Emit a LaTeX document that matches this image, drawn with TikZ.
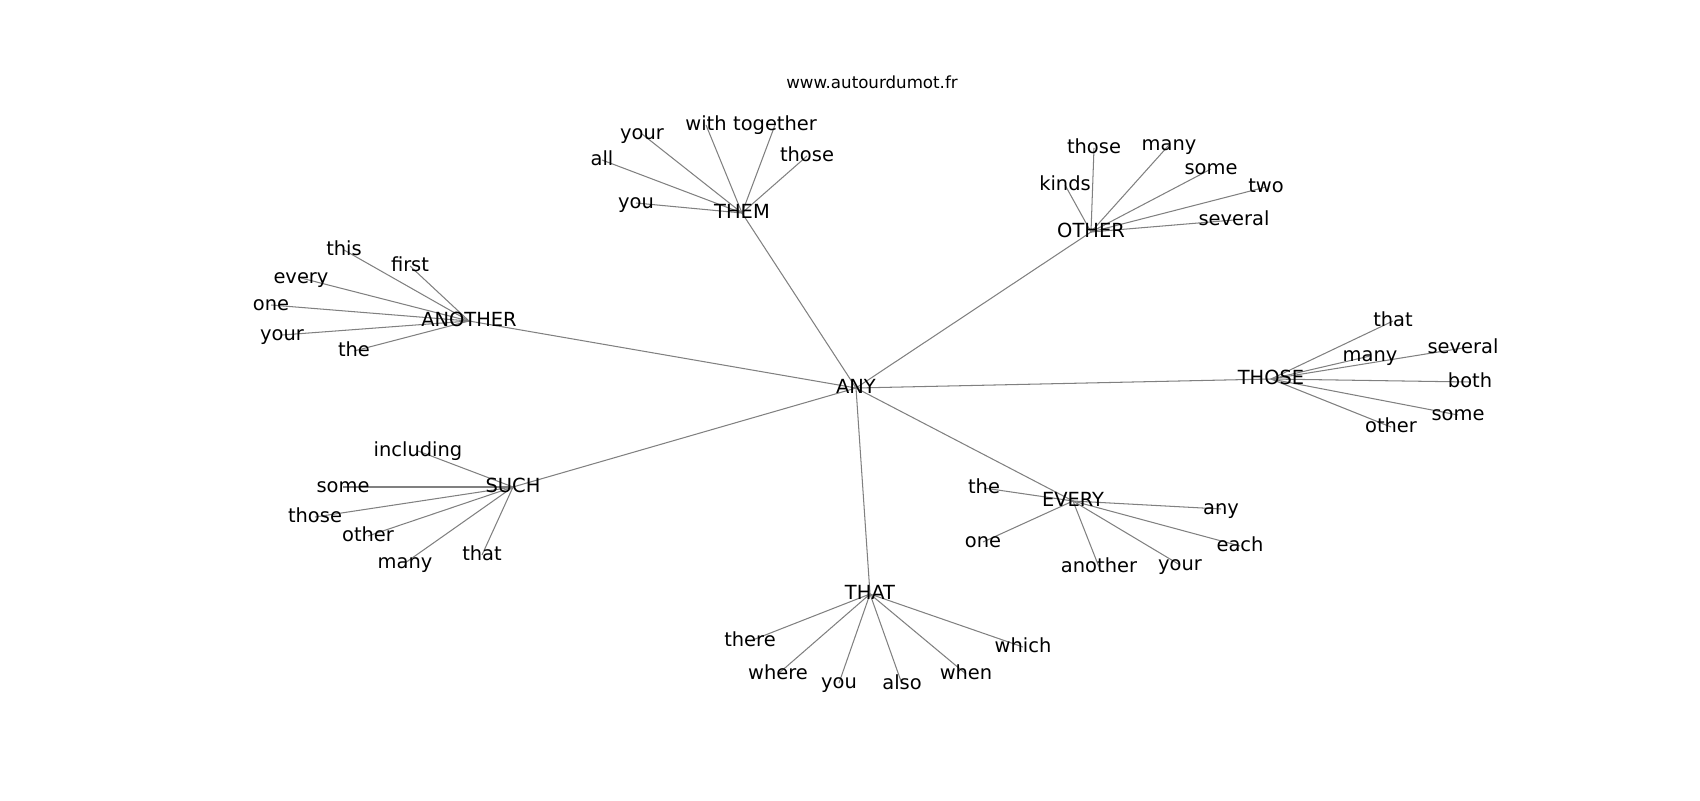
\documentclass[tikz,border=0pt]{standalone}
\usepackage{fontspec}
\setmainfont{DejaVu Sans}
\usepackage{tikz}
\usepackage{xcolor}
\usetikzlibrary{backgrounds}

\tikzset{
    word/.style={inner sep=0pt, text height=1.07em, text depth=0.208em, font=\fontsize{14}{16}\selectfont},
    site/.style={inner sep=0pt, text height=0.76em, text depth=0.208em, font=\fontsize{12}{14}\selectfont},
    link/.style={draw=black!50, line width=0.75pt}
}

\begin{document}
\begin{tikzpicture}[x=0.72pt,y=-0.72pt]
            \useasboundingbox (0,0) rectangle (1700,800);

            \node[site] (title) at (872,85) {www.autourdumot.fr};

            % the centre and its neighbours
            \foreach \hub/\word/\x/\y in {any/ANY/856/388, them/THEM/742/213, another/ANOTHER/469/321,
                other/OTHER/1091/232, those/THOSE/1271/379, such/SUCH/513/487,
                every/EVERY/1073/501, that/THAT/870/594}
            {
                \node[word] (\hub) at (\x,\y) {\word};
            }
            \begin{scope}[on background layer]
                \foreach \hub in {them,another,other,those,such,every,that}
                {
                    \draw[link] (any.center) -- (\hub.center);
                }
            \end{scope}

            % the leaves of each neighbour
            \foreach \hub/\i/\word/\x/\y in {
                them/1/you/636/203, them/2/all/602/160, them/3/your/642/134,
                them/4/with/706/125, them/5/together/775/125, them/6/those/807/156,
                another/1/this/344/250, another/2/first/410/266, another/3/every/301/278,
                another/4/one/271/305, another/5/your/282/335, another/6/the/354/351,
                other/1/kinds/1065/185, other/2/those/1094/148, other/3/many/1169/145,
                other/4/some/1211/169, other/5/two/1266/187, other/6/several/1234/220,
                those/1/that/1393/321, those/2/many/1370/356, those/3/several/1463/348,
                those/4/both/1470/382, those/5/some/1458/415, those/6/other/1391/427,
                such/1/including/418/451, such/2/some/343/487, such/3/those/315/517,
                such/4/other/368/536, such/5/many/405/563, such/6/that/482/555,
                every/1/the/984/488, every/2/one/983/542, every/3/another/1099/567,
                every/4/your/1180/565, every/5/each/1240/546, every/6/any/1221/509,
                that/1/there/750/641, that/2/where/778/674, that/3/you/839/683,
                that/4/also/902/684, that/5/when/966/674, that/6/which/1023/647}
            {
                \node[word] (\hub-\i) at (\x,\y) {\word};
                \begin{scope}[on background layer]
                    \draw[link] (\hub.center) -- (\hub-\i.center);
                \end{scope}
            }

\end{tikzpicture}
\end{document}
